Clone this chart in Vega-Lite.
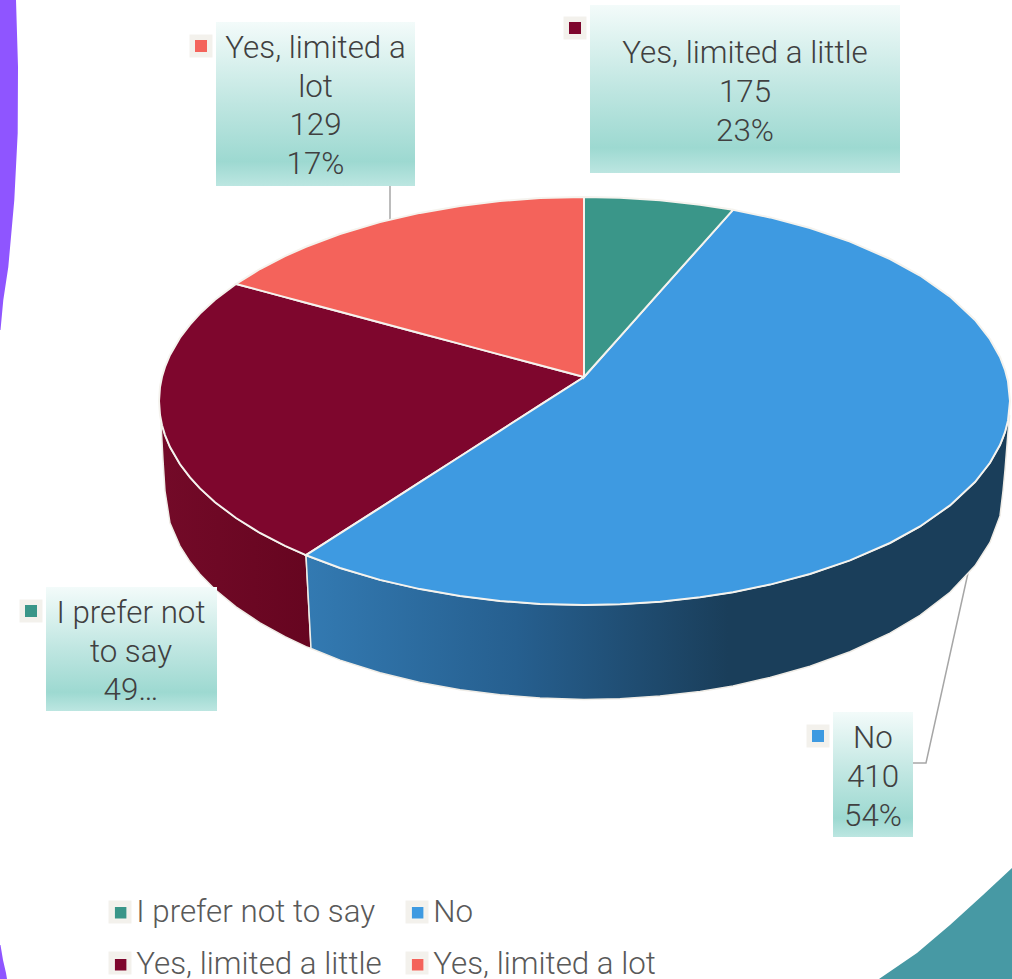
{
"$schema":"https://vega.github.io/schema/vega-lite/v6.json",
"width":1012,"height":979,"padding":0,"autosize":{"type":"none"},
"background":"white",
"config":{"view":{"stroke":null},"font":"Roboto"},
"datasets":{
"purple":[{"y":0,"x":0,"x2":16},{"y":67,"x":0,"x2":18},{"y":133,"x":0,"x2":17.7},{"y":200,"x":0,"x2":14.3},{"y":267,"x":0,"x2":8.3},{"y":300,"x":0,"x2":3.3},{"y":330,"x":0,"x2":0.5}],
"purple2":[{"y":945,"x":0,"x2":0.5},{"y":960,"x":0,"x2":3},{"y":973,"x":0,"x2":6},{"y":979,"x":0,"x2":7}],
"teal":[{"x":879,"y":979,"y2":979},{"x":917,"y":953,"y2":979},{"x":950,"y":925,"y2":979},{"x":983,"y":895,"y2":979},{"x":1012,"y":868,"y2":979}],
"leaders":[{"id":"lot","o":1,"x":390,"y":186},{"id":"lot","o":2,"x":390,"y":220},{"id":"no","o":1,"x":913,"y":763},{"id":"no","o":2,"x":926,"y":763},{"id":"no","o":3,"x":968,"y":573}],
"wallRed":[{"x":161,"y":422,"y2":423},{"x":163,"y":428,"y2":460},{"x":165,"y":435.1,"y2":491},{"x":170,"y":447.1,"y2":523},{"x":180,"y":464.3,"y2":546.1},{"x":190,"y":477.4,"y2":561.8},{"x":200,"y":488.4,"y2":574.2},{"x":215,"y":502.2,"y2":589.5},{"x":236,"y":518,"y2":606.9},{"x":260,"y":533,"y2":622.9},{"x":285,"y":545.9,"y2":636.7},{"x":306,"y":555.2,"y2":646.6},{"x":311,"y":647.5,"y2":648.5}],
"wallBlue":[{"x":306,"y":555.2,"y2":555.2},{"x":311,"y":557.3,"y2":648.5},{"x":340,"y":568,"y2":660.1},{"x":380,"y":579.9,"y2":672.7},{"x":420,"y":589.1,"y2":682.4},{"x":460,"y":596.1,"y2":689.7},{"x":500,"y":600.9,"y2":694.8},{"x":540,"y":603.9,"y2":697.9},{"x":584,"y":605,"y2":699.5},{"x":620,"y":604.3,"y2":698.7},{"x":660,"y":601.8,"y2":696},{"x":700,"y":597.3,"y2":691.4},{"x":733,"y":592.2,"y2":685.9},{"x":770,"y":584.6,"y2":677.4},{"x":810,"y":574,"y2":666.2},{"x":850,"y":560.4,"y2":651.7},{"x":890,"y":543,"y2":633.1},{"x":920,"y":526.5,"y2":615.3},{"x":950,"y":505.4,"y2":592.3},{"x":975,"y":482,"y2":565.8},{"x":990,"y":462.8,"y2":542.4},{"x":1000,"y":445,"y2":515.9},{"x":1003,"y":438,"y2":491},{"x":1005,"y":432.2,"y2":470},{"x":1008,"y":420.7,"y2":432},{"x":1009.5,"y":415,"y2":417}],
"top":[
{"slice":"Yes, limited a little","x":159,"y":401,"y2":401},{"slice":"Yes, limited a little","x":160,"y":387,"y2":415},{"slice":"Yes, limited a little","x":162,"y":376.8,"y2":425.2},{"slice":"Yes, limited a little","x":165,"y":366.9,"y2":435.1},{"slice":"Yes, limited a little","x":170,"y":354.9,"y2":447.1},{"slice":"Yes, limited a little","x":180,"y":337.7,"y2":464.3},{"slice":"Yes, limited a little","x":190,"y":324.6,"y2":477.4},{"slice":"Yes, limited a little","x":200,"y":313.6,"y2":488.4},{"slice":"Yes, limited a little","x":215,"y":299.8,"y2":502.2},{"slice":"Yes, limited a little","x":236,"y":284,"y2":518},{"slice":"Yes, limited a little","x":260,"y":290.4,"y2":533},{"slice":"Yes, limited a little","x":285,"y":297.1,"y2":545.9},{"slice":"Yes, limited a little","x":306,"y":302.7,"y2":555.2},{"slice":"Yes, limited a little","x":340,"y":311.8,"y2":533.4},{"slice":"Yes, limited a little","x":380,"y":322.5,"y2":507.8},{"slice":"Yes, limited a little","x":420,"y":333.2,"y2":482.1},{"slice":"Yes, limited a little","x":460,"y":343.9,"y2":456.5},{"slice":"Yes, limited a little","x":500,"y":354.6,"y2":430.8},{"slice":"Yes, limited a little","x":540,"y":365.2,"y2":405.2},{"slice":"Yes, limited a little","x":584,"y":377,"y2":377},
{"slice":"Yes, limited a lot","x":236,"y":284,"y2":284},{"slice":"Yes, limited a lot","x":260,"y":269,"y2":290.4},{"slice":"Yes, limited a lot","x":285,"y":256.1,"y2":297.1},{"slice":"Yes, limited a lot","x":306,"y":246.8,"y2":302.7},{"slice":"Yes, limited a lot","x":340,"y":234,"y2":311.8},{"slice":"Yes, limited a lot","x":380,"y":222.1,"y2":322.5},{"slice":"Yes, limited a lot","x":420,"y":212.9,"y2":333.2},{"slice":"Yes, limited a lot","x":460,"y":205.9,"y2":343.9},{"slice":"Yes, limited a lot","x":500,"y":201.1,"y2":354.6},{"slice":"Yes, limited a lot","x":540,"y":198.1,"y2":365.2},{"slice":"Yes, limited a lot","x":584,"y":197,"y2":377},
{"slice":"No","x":306,"y":555.2,"y2":555.2},{"slice":"No","x":340,"y":533.4,"y2":568},{"slice":"No","x":380,"y":507.8,"y2":579.9},{"slice":"No","x":420,"y":482.1,"y2":589.1},{"slice":"No","x":460,"y":456.5,"y2":596.1},{"slice":"No","x":500,"y":430.8,"y2":600.9},{"slice":"No","x":540,"y":405.2,"y2":603.9},{"slice":"No","x":584,"y":377,"y2":605},{"slice":"No","x":620,"y":336.6,"y2":604.3},{"slice":"No","x":660,"y":291.7,"y2":601.8},{"slice":"No","x":700,"y":246.8,"y2":597.3},{"slice":"No","x":733,"y":209.8,"y2":592.2},{"slice":"No","x":770,"y":217.4,"y2":584.6},{"slice":"No","x":810,"y":228,"y2":574},{"slice":"No","x":850,"y":241.6,"y2":560.4},{"slice":"No","x":890,"y":259,"y2":543},{"slice":"No","x":920,"y":275.5,"y2":526.5},{"slice":"No","x":950,"y":296.6,"y2":505.4},{"slice":"No","x":975,"y":320,"y2":482},{"slice":"No","x":990,"y":339.2,"y2":462.8},{"slice":"No","x":1000,"y":357,"y2":445},{"slice":"No","x":1005,"y":369.8,"y2":432.2},{"slice":"No","x":1008,"y":381.3,"y2":420.7},{"slice":"No","x":1010,"y":401,"y2":401},
{"slice":"I prefer not to say","x":584,"y":197,"y2":377},{"slice":"I prefer not to say","x":620,"y":197.7,"y2":336.6},{"slice":"I prefer not to say","x":660,"y":200.2,"y2":291.7},{"slice":"I prefer not to say","x":700,"y":204.7,"y2":246.8},{"slice":"I prefer not to say","x":733,"y":209.8,"y2":209.8}
],
"boxes":[{"x":216,"x2":415,"y":22,"y2":186},{"x":590,"x2":900,"y":5,"y2":173},{"x":46,"x2":217,"y":587,"y2":711},{"x":833,"x2":913,"y":712,"y2":837}],
"lines":[
{"x":315.5,"y":58,"t":"Yes, limited a"},{"x":315.5,"y":97,"t":"lot"},{"x":315.5,"y":135,"t":"129"},{"x":315.5,"y":174,"t":"17%"},
{"x":745,"y":63,"t":"Yes, limited a little"},{"x":745,"y":102,"t":"175"},{"x":745,"y":141,"t":"23%"},
{"x":131,"y":623,"t":"I prefer not"},{"x":131,"y":662,"t":"to say"},{"x":131,"y":700,"t":"49…"},
{"x":873,"y":748,"t":"No"},{"x":873,"y":787,"t":"410"},{"x":873,"y":826,"t":"54%"}],
"keys":[{"slice":"Yes, limited a lot","x":201,"y":46},{"slice":"Yes, limited a little","x":575,"y":28},{"slice":"I prefer not to say","x":31,"y":611},{"slice":"No","x":818,"y":736}],
"legendBacks":[{"x":120,"y":912},{"x":417,"y":912},{"x":120,"y":963},{"x":417,"y":963}]
},
"encoding":{
"x":{"field":"x","type":"quantitative","scale":{"domain":[0,1012],"nice":false,"zero":false},"axis":null},
"y":{"field":"y","type":"quantitative","scale":{"domain":[979,0],"nice":false,"zero":false},"axis":null}
},
"layer":[
{"data":{"name":"purple"},"mark":{"type":"area","orient":"horizontal","color":"#8f55ff"},"encoding":{"x":{"field":"x","type":"quantitative"},"x2":{"field":"x2"},"y":{"field":"y","type":"quantitative"}}},
{"data":{"name":"purple2"},"mark":{"type":"area","orient":"horizontal","color":"#8f55ff"},"encoding":{"x":{"field":"x","type":"quantitative"},"x2":{"field":"x2"},"y":{"field":"y","type":"quantitative"}}},
{"data":{"name":"teal"},"mark":{"type":"area","color":"#4799a4"},"encoding":{"y2":{"field":"y2"}}},
{"data":{"name":"leaders"},"mark":{"type":"line","color":"#a6a6a6","strokeWidth":1.5},"encoding":{"detail":{"field":"id"},"order":{"field":"o","type":"ordinal"}}},
{"data":{"name":"wallRed"},"mark":{"type":"area","stroke":"#efece6","strokeWidth":1.5,"fill":{"gradient":"linear","x1":0,"y1":0,"x2":1,"y2":0,"stops":[{"offset":0,"color":"#730a28"},{"offset":1,"color":"#660520"}]}},"encoding":{"y2":{"field":"y2"}}},
{"data":{"name":"wallBlue"},"mark":{"type":"area","stroke":"#efece6","strokeWidth":1.5,"fill":{"gradient":"linear","x1":0,"y1":0,"x2":1,"y2":0,"stops":[{"offset":0,"color":"#337ab2"},{"offset":0.3,"color":"#265f8f"},{"offset":0.6,"color":"#1a3e5a"},{"offset":1,"color":"#1a3e5a"}]}},"encoding":{"y2":{"field":"y2"}}},
{"data":{"name":"top"},"mark":{"type":"area","stroke":"#f5f3ee","strokeWidth":2},"encoding":{"y2":{"field":"y2"},"color":{"field":"slice","type":"nominal","scale":{"domain":["I prefer not to say","No","Yes, limited a little","Yes, limited a lot"],"range":["#3a9689","#3e9ae1","#7e062d","#f4635b"]},"legend":{"title":null,"orient":"none","direction":"horizontal","zindex":1,"legendX":105,"legendY":897,"columns":2,"columnPadding":20,"rowPadding":20,"symbolType":"square","symbolSize":169,"labelFontSize":31.3,"labelFont":"Roboto","labelFontWeight":300,"labelColor":"#595959","labelLimit":400,"labelOffset":0}}}},
{"data":{"name":"boxes"},"mark":{"type":"rect","fill":{"gradient":"linear","x1":0,"y1":0,"x2":0,"y2":1,"stops":[{"offset":0,"color":"#f3fbfa"},{"offset":0.5,"color":"#bfe6e1"},{"offset":0.85,"color":"#9dd9d1"},{"offset":1,"color":"#bce6e1"}]}},"encoding":{"x2":{"field":"x2"},"y2":{"field":"y2"}}},
{"data":{"name":"lines"},"mark":{"type":"text","align":"center","baseline":"alphabetic","font":"Roboto","fontWeight":300,"fontSize":31.3,"color":"#404040"},"encoding":{"text":{"field":"t","type":"nominal"}}},
{"data":{"name":"keys"},"mark":{"type":"point","shape":"square","filled":true,"size":529,"color":"#f3f1ec","opacity":1},"encoding":{}},
{"data":{"name":"keys"},"mark":{"type":"point","shape":"square","filled":true,"size":144,"opacity":1},"encoding":{"color":{"field":"slice","type":"nominal","legend":null}}},
{"data":{"name":"legendBacks"},"mark":{"type":"point","shape":"square","filled":true,"size":529,"color":"#f3f1ec","opacity":1},"encoding":{}}
]
}
